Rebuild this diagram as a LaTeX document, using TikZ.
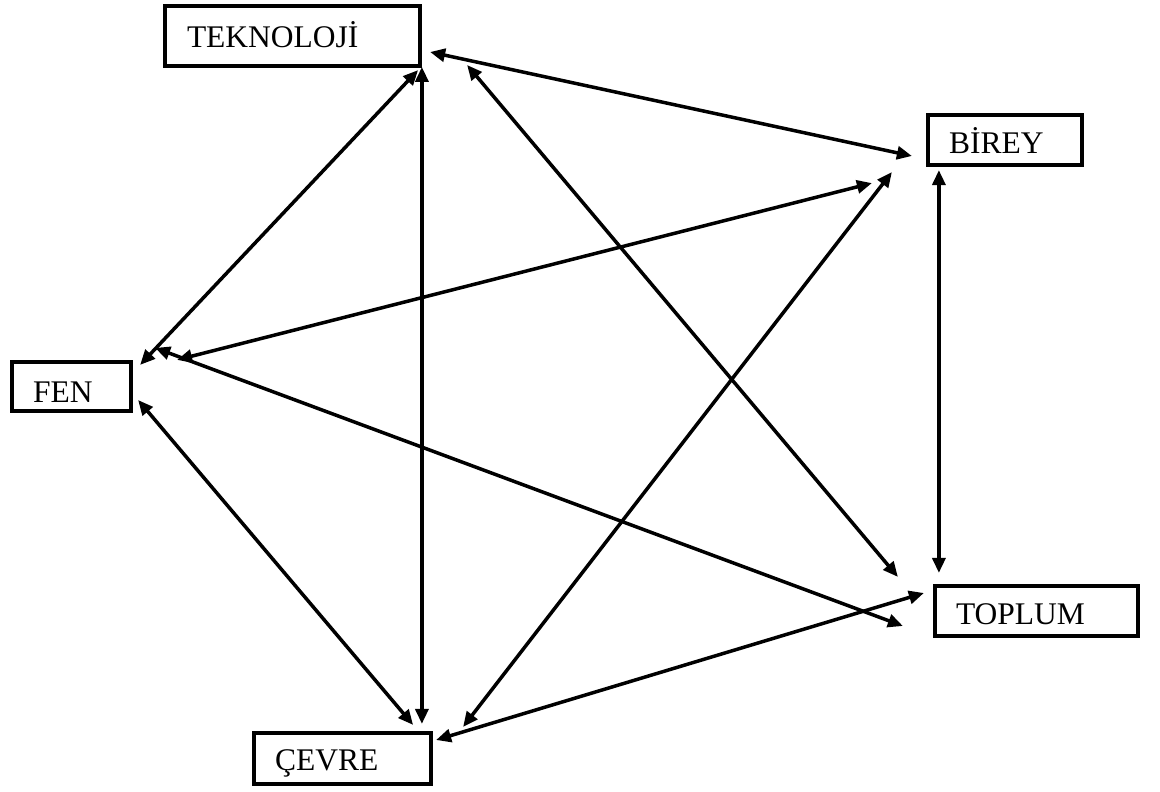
\documentclass[tikz,border=0pt]{standalone}
\usepackage{fontspec}
\setmainfont{Liberation Serif}
\usetikzlibrary{arrows.meta,calc}
\begin{document}
\begin{tikzpicture}[x=1pt,y=-1pt,
  conceptbox/.style={draw, line width=3.8pt, rectangle, align=left,
    inner xsep=21pt, inner ysep=0pt, text height=20.5pt, text depth=0pt,
    font=\fontsize{31.5}{36}\selectfont},
  link/.style={line width=3.5pt, {Triangle[length=15pt,width=13pt]}-{Triangle[length=15pt,width=13pt]}}]
  \useasboundingbox (0,0) rectangle (1160,792);

  % concept boxes
  \node[conceptbox, minimum width=255pt, minimum height=60pt, text width=211pt, text height=22.5pt] (tek) at (292.5,36) {TEKNOLOJİ};
  \node[conceptbox, minimum width=152pt, minimum height=50pt, text width=112pt, text height=26.5pt] (bir) at (1005,140) {BİREY};
  \node[conceptbox, minimum width=119pt, minimum height=49pt, text width=77pt, text height=31.5pt] (fen) at (71.5,386.5) {FEN};
  \node[conceptbox, minimum width=203pt, minimum height=50pt, text width=161pt, text height=27.5pt] (top) at (1036.5,611) {TOPLUM};
  \node[conceptbox, minimum width=175pt, minimum height=51pt, text width=135pt, text height=23.5pt] (cev) at (342.5,758.5) {ÇEVRE};

  % connector ends, placed around the boxes
  \coordinate (tB) at ($(tek.east)+(8.2,16)$);
  \coordinate (bT) at ($(bir.west)+(-14.2,16)$);
  \coordinate (tP) at ($(tek.east)+(45.2,29)$);
  \coordinate (pT) at ($(top.north west)+(-35.2,-7.2)$);
  \coordinate (tF) at ($(tek.south east)+(-3.8,2.2)$);
  \coordinate (fT) at ($(fen.north east)+(7.2,4.8)$);
  \coordinate (tC) at ($(tek.south east)+(0,-1)$);
  \coordinate (cT) at ($(tC |- cev.north)+(0,-7.2)$);
  \coordinate (bF) at ($(bir.south west)+(-54.2,16.2)$);
  \coordinate (fB) at ($(fen.north east)+(44.2,-0.2)$);
  \coordinate (bC) at ($(bir.south west)+(-34.2,5.2)$);
  \coordinate (cB) at ($(cev.north east)+(30.2,-4.2)$);
  \coordinate (bP) at ($(bir.south west)+(12.8,3.2)$);
  \coordinate (pB) at ($(bP |- top.north)+(0,-11.2)$);
  \coordinate (fP) at ($(fen.north east)+(22.2,-12.2)$);
  \coordinate (pF) at ($(top.west)+(-30.2,15)$);
  \coordinate (fC) at ($(fen.east)+(5.2,13.5)$);
  \coordinate (cF) at ($(cev.north east)+(-19.8,-6.2)$);
  \coordinate (pC) at ($(top.west)+(-9.2,-18)$);
  \coordinate (cP) at ($(cev.east)+(3.2,-18.5)$);

  % two-way links
  \draw[link] (tB) -- (bT);
  \draw[link] (tP) -- (pT);
  \draw[link] (tF) -- (fT);
  \draw[link] (tC) -- (cT);
  \draw[link] (bF) -- (fB);
  \draw[link] (bC) -- (cB);
  \draw[link] (bP) -- (pB);
  \draw[link] (fP) -- (pF);
  \draw[link] (fC) -- (cF);
  \draw[link] (pC) -- (cP);
\end{tikzpicture}
\end{document}
